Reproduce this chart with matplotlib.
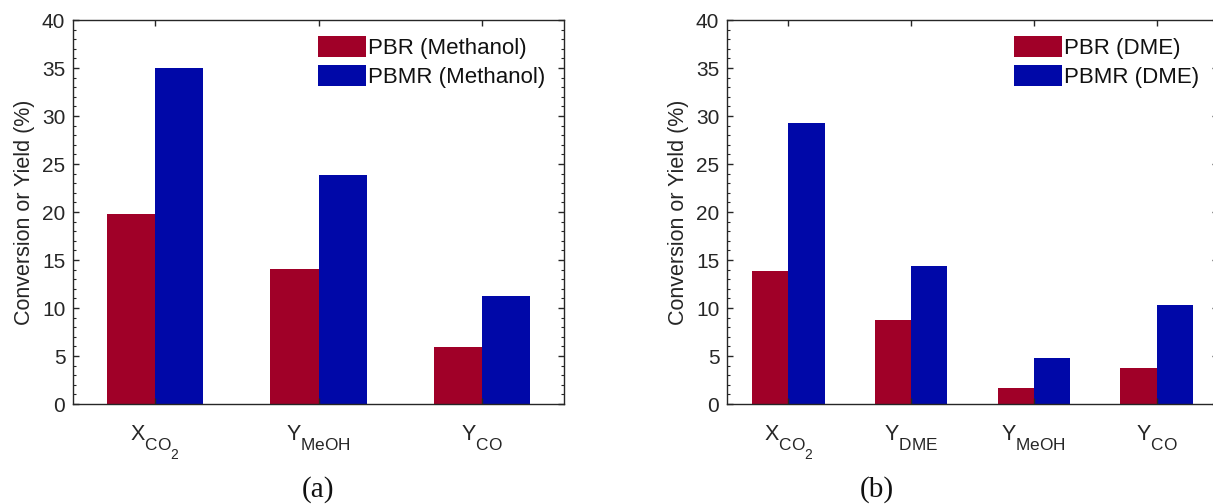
import matplotlib
matplotlib.use("Agg")
import matplotlib.pyplot as plt
import matplotlib._mathtext as _mt
import numpy as np
from matplotlib.ticker import MultipleLocator

plt.rcParams['font.family'] = ['Liberation Sans', 'DejaVu Sans']
plt.rcParams['mathtext.fontset'] = 'custom'
plt.rcParams['mathtext.rm'] = 'Liberation Sans'
plt.rcParams['mathtext.it'] = 'Liberation Sans'
# MATLAB-like subscripts: less shrink, deeper drop
_mt.SHRINK_FACTOR = 0.8
try:
    _mt.FontConstantsBase.sub1 = 0.9
except Exception:
    pass

# ---- data ----
cats_a = [r'$\mathregular{X_{CO_2}}$', r'$\mathregular{Y_{MeOH}}$', r'$\mathregular{Y_{CO}}$']
pbr_a = [19.8, 14.1, 5.9]
pbmr_a = [35.0, 23.85, 11.3]
labels_a = ['PBR (Methanol)', 'PBMR (Methanol)']

cats_b = [r'$\mathregular{X_{CO_2}}$', r'$\mathregular{Y_{DME}}$', r'$\mathregular{Y_{MeOH}}$', r'$\mathregular{Y_{CO}}$']
pbr_b = [13.85, 8.7, 1.7, 3.75]
pbmr_b = [29.3, 14.4, 4.8, 10.35]
labels_b = ['PBR (DME)', 'PBMR (DME)']

yticks = [0, 5, 10, 15, 20, 25, 30, 35, 40]
ylabel = 'Conversion or Yield (%)'
panel_labels = ['(a)', '(b)']

RED = '#A00028'
BLUE = '#0008A8'
INK = '#262626'

fig = plt.figure(figsize=(12.13, 5.04), dpi=100)
ax_a = fig.add_axes([73/1213, 100/504, 491/1213, 384/504])
ax_b = fig.add_axes([727/1213, 100/504, 491/1213, 384/504])


def draw(ax, cats, pbr, pbmr, labels, legx):
    x = np.arange(1, len(cats) + 1)
    w = 0.295
    ax.bar(x - w/2, pbr, width=w, color=RED, label=labels[0], linewidth=0)
    ax.bar(x + w/2, pbmr, width=w, color=BLUE, label=labels[1], linewidth=0)
    ax.set_xlim(0.5, len(cats) + 0.5)
    ax.set_ylim(0, 40)
    ax.set_xticks(x)
    ax.set_xticklabels(cats, fontsize=15.5, color=INK)
    ax.set_yticks(yticks)
    ax.set_yticklabels([str(v) for v in yticks], fontsize=15, color=INK)
    ax.yaxis.set_minor_locator(MultipleLocator(1))
    ax.tick_params(axis='both', which='both', direction='in', top=True, right=True, color=INK)
    ax.tick_params(axis='y', which='major', length=4.5, width=1.0, pad=5.5)
    ax.tick_params(axis='y', which='minor', length=2.5, width=0.8)
    ax.tick_params(axis='x', which='major', length=4.5, width=1.0, pad=14)
    ax.tick_params(axis='x', which='minor', bottom=False, top=False)
    for s in ax.spines.values():
        s.set_color(INK)
        s.set_linewidth(1.0)
    ax.set_ylabel(ylabel, fontsize=15.5, color=INK)
    ax.yaxis.set_label_coords(-0.078, 0.5)
    leg = ax.legend(loc='upper left', bbox_to_anchor=(legx, 0.958), frameon=False,
                    fontsize=16, handlelength=2.15, handleheight=1.08,
                    handletextpad=0.1, labelspacing=0.25, borderpad=0, borderaxespad=0)
    for t in leg.get_texts():
        t.set_color('#111111')


draw(ax_a, cats_a, pbr_a, pbmr_a, labels_a, 0.499)
draw(ax_b, cats_b, pbr_b, pbmr_b, labels_b, 0.585)

fig.text(318/1213, 1 - 490/504, panel_labels[0], family='Liberation Serif', fontsize=21,
         ha='center', va='center', color='#111111')
fig.text(877/1213, 1 - 490/504, panel_labels[1], family='Liberation Serif', fontsize=21,
         ha='center', va='center', color='#111111')

fig.savefig('out.png', dpi=100)
